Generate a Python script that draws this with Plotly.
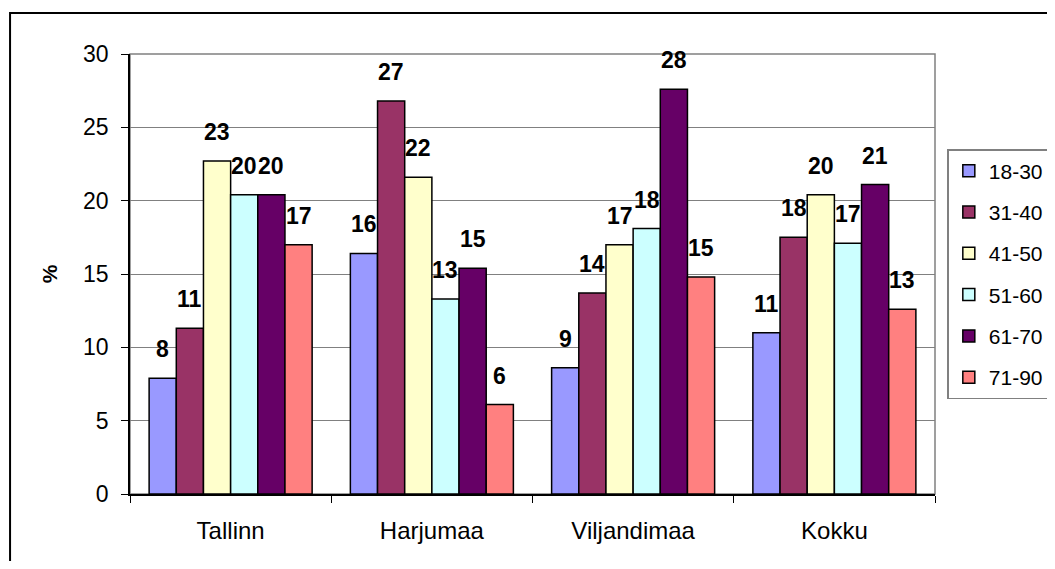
import plotly.graph_objects as go

regions = ["Tallinn", "Harjumaa", "Viljandimaa", "Kokku"]
age_groups = ["18-30", "31-40", "41-50", "51-60", "61-70", "71-90"]

v_18_30 = [7.9, 16.4, 8.6, 11.0]
v_31_40 = [11.3, 26.8, 13.7, 17.5]
v_41_50 = [22.7, 21.6, 17.0, 20.4]
v_51_60 = [20.4, 13.3, 18.1, 17.1]
v_61_70 = [20.4, 15.4, 27.6, 21.1]
v_71_90 = [17.0, 6.1, 14.8, 12.6]

series = [v_18_30, v_31_40, v_41_50, v_51_60, v_61_70, v_71_90]
colors = ["#9999FF", "#993366", "#FFFFCC", "#CCFFFF", "#660066", "#FF8080"]

FONT = "Liberation Sans, Arial, sans-serif"
BARGAP = 0.19
PLOT_W = 805
bar_px = PLOT_W / len(regions) * (1 - BARGAP) / len(series)

fig = go.Figure()
for i, (name, vals, col) in enumerate(zip(age_groups, series, colors)):
    fig.add_trace(go.Bar(
        x=regions, y=vals, name=name, legendgroup=name,
        marker=dict(color=col, line=dict(color="black", width=1.5)),
    ))
    # data labels, Excel-style, centred over each bar
    for reg, v in zip(regions, vals):
        fig.add_annotation(
            x=reg, y=v, xref="x", yref="y", text=f"<b>{round(v)}</b>",
            showarrow=False, yanchor="bottom",
            xshift=(i - (len(series) - 1) / 2) * bar_px, yshift=14,
            font=dict(family=FONT, size=23, color="black"),
        )

# outer chart frame
fig.add_shape(type="rect", xref="paper", yref="paper",
              x0=-0.149, x1=1.2, y0=-0.25, y1=1.093,
              line=dict(color="black", width=2), layer="above")
# plot area border (top/right)
fig.add_shape(type="rect", xref="paper", yref="paper",
              x0=0, x1=1, y0=0, y1=1,
              line=dict(color="#808080", width=1.5), layer="below")

# page body adds an 8px offset, so the figure is drawn a bit smaller
fig.update_layout(
    width=1047, height=553,
    margin=dict(l=122, r=120, t=46, b=67, autoexpand=False),
    paper_bgcolor="white", plot_bgcolor="white",
    barmode="group", bargap=BARGAP, bargroupgap=0,
    font=dict(family=FONT, size=22, color="black"),
    showlegend=True,
    legend=dict(x=1.0153, y=0.784, xanchor="left", yanchor="top",
                bordercolor="#808080", borderwidth=1.5,
                font=dict(size=21), tracegroupgap=11,
                itemwidth=30),
    xaxis=dict(showline=True, linecolor="black", linewidth=1.5,
               ticks="outside", tickson="boundaries", ticklen=7,
               tickcolor="black", tickfont=dict(size=24),
               ticklabelstandoff=14, automargin=False),
    yaxis=dict(range=[0, 30], dtick=5, showline=True, linecolor="black",
               linewidth=1.5, ticks="outside", ticklen=7, tickcolor="black",
               showgrid=True, gridcolor="#808080", gridwidth=1,
               zeroline=False, tickfont=dict(size=23), automargin=False,
               ticklabelstandoff=8,
               title=dict(text="<b>%</b>", font=dict(size=21), standoff=20)),
)

fig.write_html("out.html")
